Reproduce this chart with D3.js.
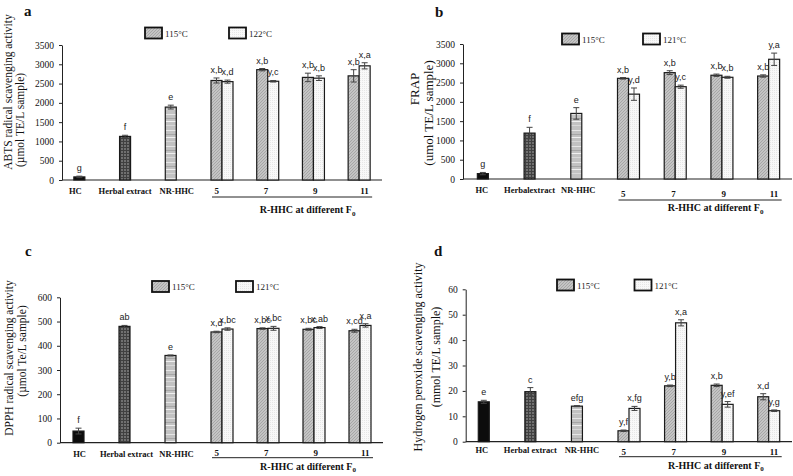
<!DOCTYPE html>
<html><head><meta charset="utf-8">
<script src="https://cdn.jsdelivr.net/npm/d3@7"></script>
<style>body{margin:0;background:#fff} svg{display:block}</style>
</head><body><svg id="chart" width="793" height="476"></svg>
<script>
// ---------- data ----------
const categories = ["HC", "Herbal extract", "NR-HHC", "5", "7", "9", "11"];
const singleCats = ["HC", "Herbal extract", "NR-HHC"];
const pairCats = ["5", "7", "9", "11"];
const groupLabel = "R-HHC at different F";

// a: ABTS
const abtsSingle = [80, 1130, 1890];
const abtsSingleErr = [20, 30, 50];
const abtsSingleLetters = ["g", "f", "e"];
const abts115 = [2580, 2860, 2660, 2700];
const abts115Err = [65, 30, 110, 160];
const abts115Letters = ["x,b", "x,b", "x,b", "x,b"];
const abtsHigh = [2550, 2560, 2640, 2960];
const abtsHighErr = [40, 20, 60, 80];
const abtsHighLetters = ["x,d", "y,c", "x,b", "x,a"];
const abtsTicks = [0, 500, 1000, 1500, 2000, 2500, 3000, 3500];

// b: FRAP
const frapSingle = [140, 1190, 1700];
const frapSingleErr = [30, 150, 150];
const frapSingleLetters = ["g", "f", "e"];
const frap115 = [2610, 2757, 2690, 2670];
const frap115Err = [20, 50, 30, 30];
const frap115Letters = ["x,b", "x,b", "x,b", "x,b"];
const frapHigh = [2200, 2393, 2637, 3104];
const frapHighErr = [160, 40, 25, 160];
const frapHighLetters = ["y,d", "y,c", "x,b", "y,a"];
const frapTicks = [0, 500, 1000, 1500, 2000, 2500, 3000, 3500];

// c: DPPH
const dpphSingle = [48, 480, 360];
const dpphSingleErr = [12, 4, 2];
const dpphSingleLetters = ["f", "ab", "e"];
const dpph115 = [457, 471, 468, 462];
const dpph115Err = [3, 3, 4, 6];
const dpph115Letters = ["x,d", "x,bc", "x,bc", "x,cd"];
const dpphHigh = [469, 472, 475, 484];
const dpphHighErr = [5, 8, 4, 7];
const dpphHighLetters = ["x,bc", "x,bc", "x,ab", "x,a"];
const dpphTicks = [0, 100, 200, 300, 400, 500, 600];

// d: Hydrogen peroxide
const h2o2Single = [15.7, 19.7, 14.0];
const h2o2SingleErr = [0.6, 1.6, 0.2];
const h2o2SingleLetters = ["e", "c", "efg"];
const h2o2115 = [4.3, 22.0, 22.2, 17.7];
const h2o2115Err = [0.3, 0.3, 0.5, 1.2];
const h2o2115Letters = ["y,f", "y,b", "x,b", "x,d"];
const h2o2High = [13.1, 46.8, 14.7, 12.2];
const h2o2HighErr = [0.8, 1.2, 1.1, 0.3];
const h2o2HighLetters = ["x,fg", "x,a", "y,ef", "y,g"];
const h2o2Ticks = [0, 10, 20, 30, 40, 50, 60];

// ---------- drawing ----------
const svg = d3.select("#chart");
const defs = svg.append("defs");
function pat(id, w, h, build) {
  const p = defs.append("pattern").attr("id", id).attr("width", w).attr("height", h)
    .attr("patternUnits", "userSpaceOnUse");
  build(p);
}
pat("pHC", 4, 4, p => p.append("rect").attr("width", 4).attr("height", 4).attr("fill", "#0c0c0c"));
pat("pHerb", 3, 3, p => {
  p.append("rect").attr("width", 3).attr("height", 3).attr("fill", "#707070");
  p.append("path").attr("d", "M0,0.5H3M0.5,0V3").attr("stroke", "#404040").attr("stroke-width", 1);
});
pat("pNR", 4, 16, p => {
  p.append("rect").attr("width", 4).attr("height", 16).attr("fill", "#c2c2c2");
  p.append("rect").attr("y", 2).attr("width", 4).attr("height", 1).attr("fill", "#e6e6e6");
  p.append("rect").attr("y", 6).attr("width", 4).attr("height", 1).attr("fill", "#a6a6a6");
  p.append("rect").attr("y", 9).attr("width", 4).attr("height", 1).attr("fill", "#f0f0f0");
  p.append("rect").attr("y", 13).attr("width", 4).attr("height", 1).attr("fill", "#d8d8d8");
});
pat("p115", 3, 3, p => {
  p.append("rect").attr("width", 3).attr("height", 3).attr("fill", "#c4c4c4");
  p.append("path").attr("d", "M0,3L3,0M-1,1L1,-1M2,4L4,2").attr("stroke", "#9a9a9a").attr("stroke-width", 0.7);
});
pat("pHigh", 2, 2, p => {
  p.append("rect").attr("width", 2).attr("height", 2).attr("fill", "#f8f8f8");
  p.append("rect").attr("width", 1).attr("height", 1).attr("fill", "#e6e6e6");
});
const singleFills = ["url(#pHC)", "url(#pHerb)", "url(#pNR)"];

const serif = "'Liberation Serif','Times New Roman',serif";
const sans = "'Liberation Sans',Arial,sans-serif";

function drawPanel(c) {
  const g = svg.append("g");
  const y = d3.scaleLinear().domain([0, c.max]).range([c.yBase, c.yTop]);
  const step = (c.bx1 - c.bx0) / categories.length;
  const pIn = 1 - 22 / step;
  const x = d3.scaleBand().domain(categories).range([c.bx0, c.bx1]).paddingInner(pIn).paddingOuter(pIn / 2);
  const x1 = d3.scaleBand().domain(["s1", "s2"]).range([0, x.bandwidth()]);
  const bw = x1.bandwidth();

  // y axis
  const ya = g.append("g").attr("transform", `translate(${c.axisX},0)`)
    .call(d3.axisLeft(y).tickValues(c.ticks).tickFormat(d3.format("d")).tickSize(3).tickPadding(5).tickSizeOuter(0));
  ya.selectAll("text").attr("font-family", serif).attr("font-size", 9.5).attr("fill", "#111");
  ya.selectAll("line,path").attr("stroke", "#222");
  // x axis line
  g.append("line").attr("x1", c.axisX).attr("x2", c.bx1).attr("y1", c.yBase).attr("y2", c.yBase)
    .attr("stroke", "#222").attr("stroke-width", 1.2);

  // bars
  const bars = [];
  singleCats.forEach((cat, i) => bars.push({ x: x(cat) + x1("s1"), v: c.single[i], e: c.singleErr[i], t: c.singleLetters[i], fill: singleFills[i] }));
  pairCats.forEach((cat, i) => {
    bars.push({ x: x(cat) + x1("s1"), v: c.s1[i], e: c.s1Err[i], t: c.s1Letters[i], fill: "url(#p115)" });
    bars.push({ x: x(cat) + x1("s2"), v: c.s2[i], e: c.s2Err[i], t: c.s2Letters[i], fill: "url(#pHigh)" });
  });
  g.selectAll("rect.bar").data(bars).join("rect").attr("class", "bar")
    .attr("x", d => d.x).attr("width", bw)
    .attr("y", d => y(d.v)).attr("height", d => c.yBase - y(d.v))
    .attr("fill", d => d.fill).attr("stroke", "#1a1a1a").attr("stroke-width", 1.2);
  // error bars
  const eb = g.selectAll("g.err").data(bars).join("g").attr("class", "err")
    .attr("stroke", "#444").attr("stroke-width", 1);
  eb.append("line").attr("x1", d => d.x + bw / 2).attr("x2", d => d.x + bw / 2)
    .attr("y1", d => y(d.v + d.e)).attr("y2", d => y(d.v - d.e));
  eb.append("line").attr("x1", d => d.x + bw / 2 - 3).attr("x2", d => d.x + bw / 2 + 3)
    .attr("y1", d => y(d.v + d.e)).attr("y2", d => y(d.v + d.e));
  eb.append("line").attr("x1", d => d.x + bw / 2 - 3).attr("x2", d => d.x + bw / 2 + 3)
    .attr("y1", d => y(d.v - d.e)).attr("y2", d => y(d.v - d.e));
  // letters
  g.selectAll("text.lt").data(bars).join("text").attr("class", "lt")
    .attr("x", d => d.x + bw / 2).attr("y", d => y(d.v + d.e) - 5)
    .attr("text-anchor", "middle").attr("font-family", sans).attr("font-size", 9).attr("fill", "#222")
    .text(d => d.t);

  // category labels
  g.selectAll("text.cat").data(singleCats).join("text").attr("class", "cat")
    .attr("x", (d, i) => x(d) + x1("s1") + bw / 2 + c.catDx[i]).attr("y", c.yBase + c.catDy)
    .attr("text-anchor", "middle").attr("font-family", serif).attr("font-weight", "bold")
    .attr("font-size", 8.5).attr("fill", "#111").text((d, i) => c.catLabels[i]);
  g.selectAll("text.num").data(pairCats).join("text").attr("class", "num")
    .attr("x", (d, i) => x(d) + x.bandwidth() / 2 + (i - 1.5) * 3.5).attr("y", c.yBase + c.numDy)
    .attr("text-anchor", "middle").attr("font-family", serif).attr("font-weight", "bold")
    .attr("font-size", 9).attr("fill", "#111").text(d => d);
  const cFirst = x(pairCats[0]) + x.bandwidth() / 2, cLast = x(pairCats[3]) + x.bandwidth() / 2;
  g.append("line").attr("x1", cFirst - 10).attr("x2", cLast + 13)
    .attr("y1", c.yBase + c.lineDy).attr("y2", c.yBase + c.lineDy).attr("stroke", "#222");
  const gl = g.append("text").attr("x", (cFirst + cLast) / 2 + 17).attr("y", c.yBase + c.groupDy)
    .attr("text-anchor", "middle").attr("font-family", serif).attr("font-weight", "bold")
    .attr("font-size", 10).attr("fill", "#111");
  gl.append("tspan").text(groupLabel);
  gl.append("tspan").attr("font-size", 7).attr("dy", 2.5).text("0");

  // legend
  [[c.lg1x, "url(#p115)", c.legendNames[0]], [c.lg2x, "url(#pHigh)", c.legendNames[1]]].forEach(([lx, f, name]) => {
    g.append("rect").attr("x", lx).attr("y", c.lgy).attr("width", 17).attr("height", 11)
      .attr("fill", f).attr("stroke", "#111").attr("stroke-width", 1.8);
    g.append("text").attr("x", lx + 20).attr("y", c.lgy + 9).attr("font-family", serif)
      .attr("font-size", 9).attr("fill", "#222").text(name);
  });

  // panel letter
  g.append("text").attr("x", c.letterX).attr("y", c.letterY).attr("font-family", serif)
    .attr("font-weight", "bold").attr("font-size", 15).attr("fill", "#111").text(c.letter);

  // y title
  c.yTitle.forEach(t => {
    g.append("text").attr("transform", `translate(${t.x},${t.y}) rotate(-90)`)
      .attr("text-anchor", "middle").attr("dominant-baseline", "central")
      .attr("font-family", serif).attr("font-size", c.yTitleSize).attr("fill", "#111").text(t.s);
  });
}

drawPanel({
  letter: "a", letterX: 24, letterY: 16,
  axisX: 62, bx0: 62, bx1: 382, yTop: 45, yBase: 180, max: 3500, ticks: abtsTicks,
  single: abtsSingle, singleErr: abtsSingleErr, singleLetters: abtsSingleLetters,
  s1: abts115, s1Err: abts115Err, s1Letters: abts115Letters,
  s2: abtsHigh, s2Err: abtsHighErr, s2Letters: abtsHighLetters,
  catLabels: ["HC", "Herbal extract", "NR-HHC"], catDx: [-4, 0, 6], legendNames: ["115°C", "122°C"],
  lg1x: 145, lg2x: 229, lgy: 27.5,
  catDy: 14, numDy: 14, lineDy: 17, groupDy: 33,
  yTitleSize: 11.5,
  yTitle: [{ s: "ABTS radical scavenging activity", x: 8, y: 92 }, { s: "(µmol TE/L sample)", x: 20, y: 120 }]
});
drawPanel({
  letter: "b", letterX: 435, letterY: 17,
  axisX: 463, bx0: 465, bx1: 792, yTop: 44, yBase: 179, max: 3500, ticks: frapTicks,
  single: frapSingle, singleErr: frapSingleErr, singleLetters: frapSingleLetters,
  s1: frap115, s1Err: frap115Err, s1Letters: frap115Letters,
  s2: frapHigh, s2Err: frapHighErr, s2Letters: frapHighLetters,
  catLabels: ["HC", "Herbalextract", "NR-HHC"], catDx: [-1, 0, 2], legendNames: ["115°C", "121°C"],
  lg1x: 562, lg2x: 643, lgy: 33.5,
  catDy: 14, numDy: 18, lineDy: 21, groupDy: 32,
  yTitleSize: 13,
  yTitle: [{ s: "FRAP", x: 414, y: 89 }, { s: "(umol TE/L sample)", x: 428, y: 113 }]
});
drawPanel({
  letter: "c", letterX: 25, letterY: 256,
  axisX: 60, bx0: 61, bx1: 383, yTop: 297.3, yBase: 442.7, max: 600, ticks: dpphTicks,
  single: dpphSingle, singleErr: dpphSingleErr, singleLetters: dpphSingleLetters,
  s1: dpph115, s1Err: dpph115Err, s1Letters: dpph115Letters,
  s2: dpphHigh, s2Err: dpphHighErr, s2Letters: dpphHighLetters,
  catLabels: ["HC", "Herbal extract", "NR-HHC"], catDx: [1, 2, 6], legendNames: ["115°C", "121°C"],
  lg1x: 152, lg2x: 236, lgy: 281,
  catDy: 14, numDy: 13, lineDy: 15, groupDy: 27,
  yTitleSize: 11.5,
  yTitle: [{ s: "DPPH radical scavenging activity", x: 9, y: 358 }, { s: "(µmol Te/L sample)", x: 22, y: 351 }]
});
drawPanel({
  letter: "d", letterX: 434, letterY: 256,
  axisX: 465.7, bx0: 466, bx1: 792, yTop: 289.3, yBase: 441.7, max: 60, ticks: h2o2Ticks,
  single: h2o2Single, singleErr: h2o2SingleErr, singleLetters: h2o2SingleLetters,
  s1: h2o2115, s1Err: h2o2115Err, s1Letters: h2o2115Letters,
  s2: h2o2High, s2Err: h2o2HighErr, s2Letters: h2o2HighLetters,
  catLabels: ["HC", "Herbal extract", "NR-HHC"], catDx: [-2, 0, 5], legendNames: ["115°C", "121°C"],
  lg1x: 557, lg2x: 634.5, lgy: 279.5,
  catDy: 11, numDy: 13.5, lineDy: 15, groupDy: 27,
  yTitleSize: 12,
  yTitle: [{ s: "Hydrogen peroxide scavenging activity", x: 418, y: 357 }, { s: "(mmol TE/L sample)", x: 436, y: 357 }]
});
</script></body></html>
